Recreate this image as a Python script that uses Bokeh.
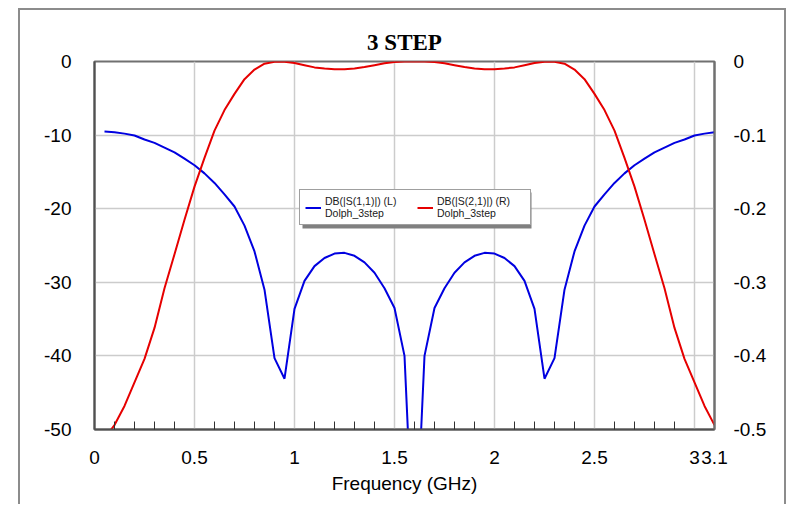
from bokeh.plotting import figure
from bokeh.models import (Range1d, LinearAxis, FixedTicker, Legend, LegendItem,
                          BoxAnnotation, CustomJSTickFormatter)
from bokeh.embed import file_html
from bokeh.resources import INLINE

# ---------------- data ----------------
freq_ghz = [0.05, 0.10, 0.15, 0.20, 0.25, 0.30, 0.35, 0.40, 0.45, 0.50,
            0.55, 0.60, 0.65, 0.70, 0.75, 0.80, 0.85, 0.90, 0.95, 1.00,
            1.05, 1.10, 1.15, 1.20, 1.25, 1.30, 1.35, 1.40, 1.45, 1.50,
            1.55, 1.60, 1.65, 1.70, 1.75, 1.80, 1.85, 1.90, 1.95, 2.00,
            2.05, 2.10, 2.15, 2.20, 2.25, 2.30, 2.35, 2.40, 2.45, 2.50,
            2.55, 2.60, 2.65, 2.70, 2.75, 2.80, 2.85, 2.90, 2.95, 3.00,
            3.05, 3.10]

s11_db = [-9.5, -9.6, -9.8, -10.05, -10.6, -11.05, -11.7, -12.35, -13.2, -14.1,
          -15.2, -16.5, -18.05, -19.7, -22.3, -25.8, -31.0, -40.3, -43.1, -33.6,
          -29.8, -27.8, -26.7, -26.1, -26.0, -26.4, -27.3, -28.7, -30.8, -33.5,
          -40.0, -70.0, -40.0, -33.5, -30.8, -28.7, -27.3, -26.4, -26.0, -26.1,
          -26.7, -27.8, -29.8, -33.6, -43.1, -40.3, -31.0, -25.8, -22.3, -19.7,
          -18.05, -16.5, -15.2, -14.1, -13.2, -12.35, -11.7, -11.05, -10.6, -10.05,
          -9.8, -9.6]

s21_db = [-0.512, -0.494, -0.468, -0.436, -0.404, -0.362, -0.308, -0.262, -0.215, -0.170,
          -0.131, -0.094, -0.066, -0.044, -0.024, -0.011, -0.003, -0.0005, -0.0002, -0.002,
          -0.005, -0.008, -0.0095, -0.0105, -0.0105, -0.0095, -0.0075, -0.005, -0.0025, -0.0008,
          -0.0001, 0.0, -0.0001, -0.0008, -0.0025, -0.005, -0.0075, -0.0095, -0.0105, -0.0105,
          -0.0095, -0.008, -0.005, -0.002, -0.0002, -0.0005, -0.003, -0.011, -0.024, -0.044,
          -0.066, -0.094, -0.131, -0.170, -0.215, -0.262, -0.308, -0.362, -0.404, -0.436,
          -0.468, -0.494]

x_ticks = [0, 0.5, 1, 1.5, 2, 2.5, 3, 3.1]
x_minor_ticks = [0.1, 0.2, 0.3, 0.4, 0.6, 0.7, 0.8, 0.9, 1.1, 1.2, 1.3, 1.4,
                 1.6, 1.7, 1.8, 1.9, 2.1, 2.2, 2.3, 2.4, 2.6, 2.7, 2.8, 2.9]
left_ticks = [0, -10, -20, -30, -40, -50]
right_ticks = [0, -0.1, -0.2, -0.3, -0.4, -0.5]

title_text = "3 STEP"
x_label = "Frequency (GHz)"
label_s11 = "DB(|S(1,1)|) (L)\nDolph_3step"
label_s21 = "DB(|S(2,1)|) (R)\nDolph_3step"

# ---------------- styling ----------------
BLUE = "#0000e0"
RED = "#e60000"
FONT = "Liberation Sans"
fmt = CustomJSTickFormatter(code="return String(tick);")

p = figure(width=768, height=496, x_range=Range1d(0, 3.1), y_range=Range1d(-50, 0),
           output_backend="svg", toolbar_location=None, title=title_text,
           min_border_left=74, min_border_right=74, min_border_top=51,
           min_border_bottom=77)
# outer window frame of the chart (left, top and right edges)
p.styles = {"margin-left": "18px", "margin-top": "8px",
            "border-left": "2px solid #8c8c8c",
            "border-top": "2px solid #8c8c8c",
            "border-right": "2px solid #8c8c8c"}
p.background_fill_color = "white"
p.border_fill_color = "white"
p.outline_line_color = "#707070"
p.outline_line_width = 2

p.title.text_font = "Liberation Serif"
p.title.text_font_style = "bold"
p.title.text_font_size = "23px"
p.title.align = "center"
p.title.text_color = "black"
p.title.standoff = 13

p.extra_y_ranges = {"right": Range1d(-0.5, 0)}
raxis = LinearAxis(y_range_name="right")
p.add_layout(raxis, "right")

xt = FixedTicker(ticks=x_ticks, minor_ticks=x_minor_ticks)
p.xaxis.ticker = xt
p.xgrid.ticker = xt
p.yaxis[0].ticker = FixedTicker(ticks=left_ticks)
raxis.ticker = FixedTicker(ticks=right_ticks)

for ax in [p.xaxis[0], p.yaxis[0], raxis]:
    ax.formatter = fmt
    ax.major_tick_in = 0
    ax.major_tick_out = 0
    ax.major_label_text_font = FONT
    ax.major_label_text_font_size = "19px"
    ax.major_label_text_color = "black"
    ax.axis_line_color = "#505050"
    ax.axis_line_width = 2

p.xaxis.minor_tick_in = 8
p.xaxis.minor_tick_out = 0
p.xaxis.minor_tick_line_color = "#303030"
p.xaxis.minor_tick_line_width = 1
p.xaxis.major_label_standoff = 21
p.xaxis.axis_label = x_label
p.xaxis.axis_label_text_font = FONT
p.xaxis.axis_label_text_font_size = "19px"
p.xaxis.axis_label_text_font_style = "normal"
p.xaxis.axis_label_text_color = "black"
p.xaxis.axis_label_standoff = 6

for ax in [p.yaxis[0], raxis]:
    ax.minor_tick_in = 0
    ax.minor_tick_out = 0
p.yaxis[0].major_label_standoff = 23
raxis.major_label_standoff = 19
raxis.axis_line_color = "#707070"

p.xgrid.grid_line_color = "#cccccc"
p.xgrid.grid_line_width = 1.5
p.ygrid.grid_line_color = "#cccccc"
p.ygrid.grid_line_width = 1.5

r1 = p.line(freq_ghz, s11_db, line_color=BLUE, line_width=2)
r2 = p.line(freq_ghz, s21_db, line_color=RED, line_width=2, y_range_name="right")

# legend shadow + legend
shadow = BoxAnnotation(left=208, right=437, bottom=201, top=237,
                       left_units="screen", right_units="screen",
                       bottom_units="screen", top_units="screen",
                       fill_color="#808080", fill_alpha=1.0, line_color=None)
p.add_layout(shadow)

legend = Legend(items=[LegendItem(label=label_s11, renderers=[r1]),
                       LegendItem(label=label_s21, renderers=[r2])],
                orientation="horizontal", location=(205, 204),
                border_line_color="#404040", border_line_width=1.5,
                background_fill_color="white", background_fill_alpha=1.0,
                padding=5, spacing=4, margin=0, label_standoff=4,
                glyph_width=16, glyph_height=13, label_width=88,
                label_text_line_height=1.3,
                label_text_font=FONT, label_text_font_size="10.5px",
                label_text_color="#202020")
p.add_layout(legend)

open("out.html", "w").write(file_html(p, INLINE))
